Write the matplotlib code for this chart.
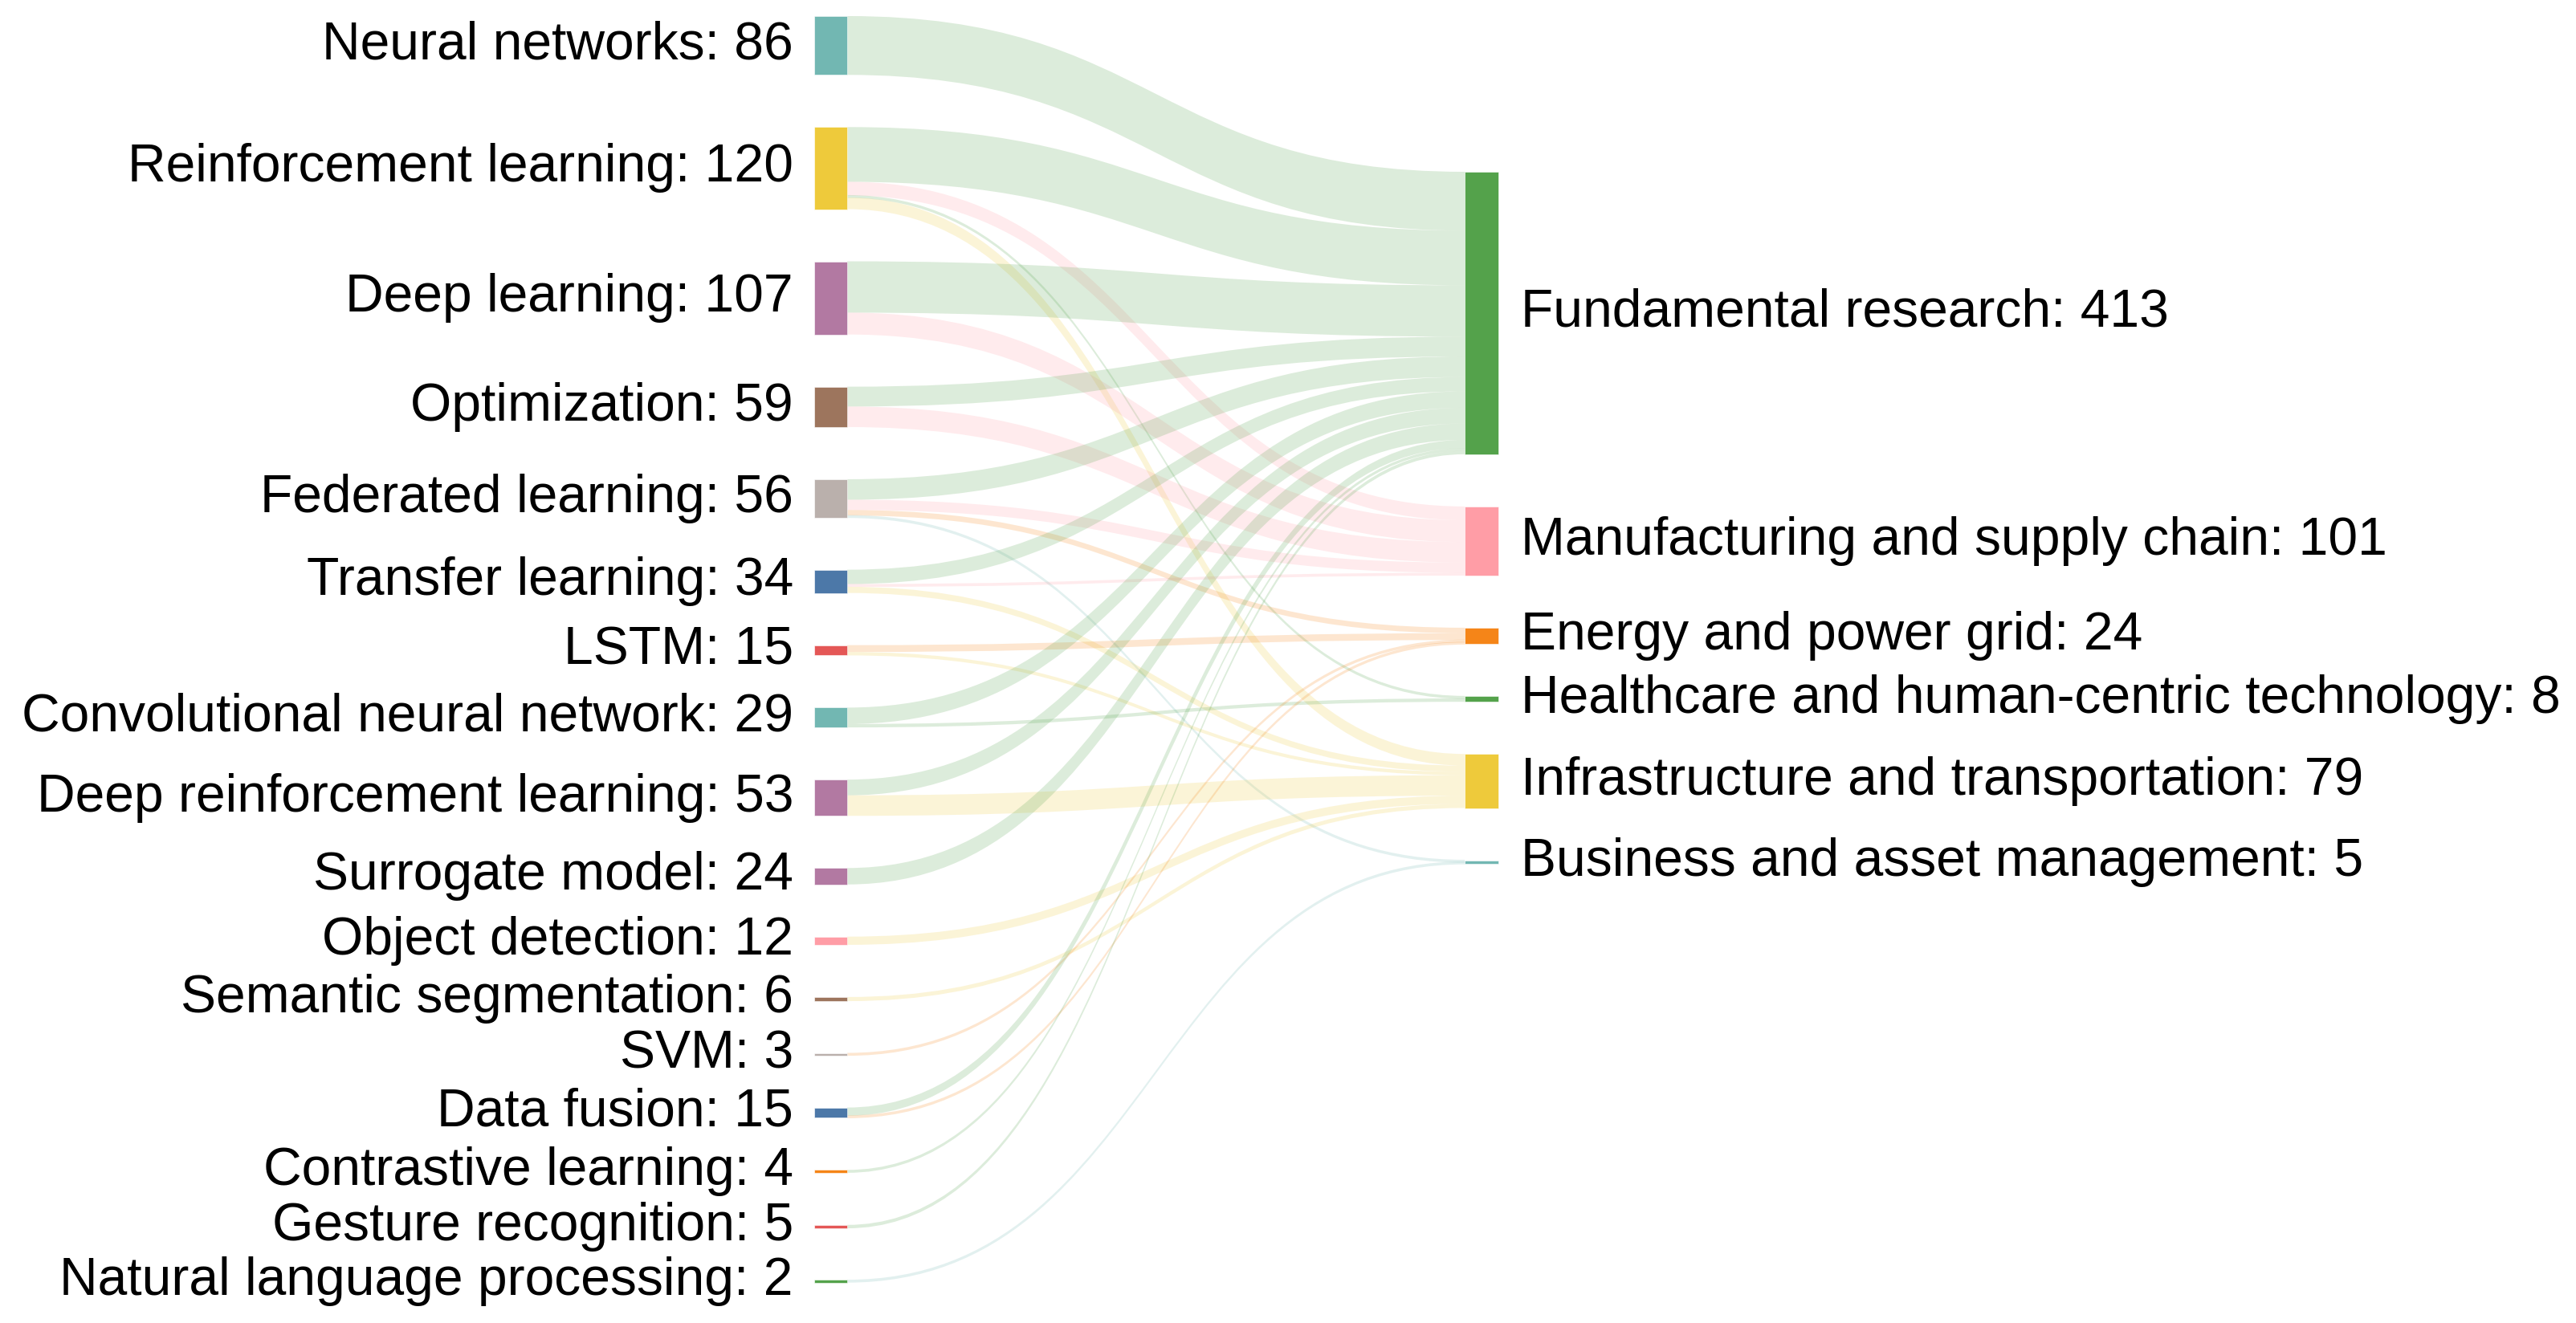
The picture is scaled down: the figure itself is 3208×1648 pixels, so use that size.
import numpy as np
import matplotlib
matplotlib.use("Agg")
import matplotlib.pyplot as plt
from matplotlib.path import Path
from matplotlib.patches import PathPatch, Rectangle

# node labels (left = methods, right = application domains)
left_labels = ["Neural networks", "Reinforcement learning", "Deep learning", "Optimization",
               "Federated learning", "Transfer learning", "LSTM", "Convolutional neural network",
               "Deep reinforcement learning", "Surrogate model", "Object detection",
               "Semantic segmentation", "SVM", "Data fusion", "Contrastive learning",
               "Gesture recognition", "Natural language processing"]
right_labels = ["Fundamental research", "Manufacturing and supply chain", "Energy and power grid",
                "Healthcare and human-centric technology", "Infrastructure and transportation",
                "Business and asset management"]

# links: source index (left), target index (right), value
src = [0,
       1, 1, 1, 1,
       2, 2,
       3, 3,
       4, 4, 4, 4,
       5, 5, 5,
       6, 6,
       7, 7,
       8, 8,
       9,
       10,
       11,
       12,
       13, 13,
       14,
       15,
       16]
tgt = [0,
       0, 1, 3, 4,
       0, 1,
       0, 1,
       0, 1, 2, 5,
       0, 1, 4,
       2, 4,
       0, 3,
       0, 4,
       0,
       4,
       4,
       2,
       0, 2,
       0,
       0,
       5]
val = [86,
       80, 20, 3, 17,
       75, 32,
       29, 30,
       30, 15, 8, 3,
       21, 4, 9,
       10, 5,
       24, 5,
       23, 30,
       24,
       12,
       6,
       3,
       12, 3,
       4,
       5,
       2]

left_colors = ["#72b7b2", "#eeca3b", "#b279a2", "#9d755d", "#bab0ac", "#4c78a8", "#e45756",
               "#72b7b2", "#b279a2", "#b279a2", "#ff9da6", "#9d755d", "#bab0ac", "#4c78a8",
               "#f58518", "#e45756", "#54a24b"]
right_colors = ["#54a24b", "#ff9da6", "#f58518", "#54a24b", "#eeca3b", "#72b7b2"]

W, H = 3208, 1648
k = 0.852          # px per unit
gap = 65
min_h = 3.6        # thin links/nodes still show a few px
xl0, xl1 = 1014, 1055
xr0, xr1 = 1824, 1866
left_start, right_start = 20, 214

left_tot = np.zeros(len(left_labels))
right_tot = np.zeros(len(right_labels))
for s, t, v in zip(src, tgt, val):
    left_tot[s] += v
    right_tot[t] += v

def tops(totals, start):
    out = []
    y = start
    for v in totals:
        out.append(y)
        y += v * k + gap
    return out

left_top = tops(left_tot, left_start)
right_top = tops(right_tot, right_start)

fig = plt.figure(figsize=(W / 100, H / 100), dpi=100)
ax = fig.add_axes([0, 0, 1, 1])
ax.set_xlim(0, W)
ax.set_ylim(H, 0)
ax.axis("off")

# band offsets: at source ordered by target, at target ordered by source
order = sorted(range(len(val)), key=lambda i: (src[i], tgt[i]))
s_off = list(left_top)
s_pos = {}
for i in order:
    s_pos[i] = s_off[src[i]]
    s_off[src[i]] += val[i] * k
order_t = sorted(range(len(val)), key=lambda i: (tgt[i], src[i]))
t_off = list(right_top)
t_pos = {}
for i in order_t:
    t_pos[i] = t_off[tgt[i]]
    t_off[tgt[i]] += val[i] * k

xm = (xl1 + xr0) / 2
for i in range(len(val)):
    h = val[i] * k
    y0, y1 = s_pos[i], t_pos[i]
    if h < min_h:
        y0 -= (min_h - h) / 2
        y1 -= (min_h - h) / 2
        h = min_h
    verts = [(xl1, y0), (xm, y0), (xm, y1), (xr0, y1),
             (xr0, y1 + h),
             (xm, y1 + h), (xm, y0 + h), (xl1, y0 + h),
             (xl1, y0)]
    codes = [Path.MOVETO, Path.CURVE4, Path.CURVE4, Path.CURVE4,
             Path.LINETO,
             Path.CURVE4, Path.CURVE4, Path.CURVE4,
             Path.CLOSEPOLY]
    ax.add_patch(PathPatch(Path(verts, codes), facecolor=right_colors[tgt[i]],
                           alpha=0.2, edgecolor="none", zorder=1))

font = ["Liberation Sans", "DejaVu Sans"]
fs = 47.5

def node(x0, x1, top, h, color):
    if h < min_h:
        top -= (min_h - h) / 2
        h = min_h
    ax.add_patch(Rectangle((x0, top), x1 - x0, h, facecolor=color,
                           edgecolor="white", linewidth=0.4, zorder=2))

for j, lab in enumerate(left_labels):
    h = left_tot[j] * k
    node(xl0, xl1, left_top[j], h, left_colors[j])
    ax.text(xl0 - 26, left_top[j] + h / 2, f"{lab}: {int(left_tot[j])}", ha="right",
            va="center", fontsize=fs, family=font, color="black", zorder=3)
for j, lab in enumerate(right_labels):
    h = right_tot[j] * k
    node(xr0, xr1, right_top[j], h, right_colors[j])
    ax.text(xr1 + 28, right_top[j] + h / 2, f"{lab}: {int(right_tot[j])}", ha="left",
            va="center", fontsize=fs, family=font, color="black", zorder=3)

fig.savefig("out.png", dpi=100)
